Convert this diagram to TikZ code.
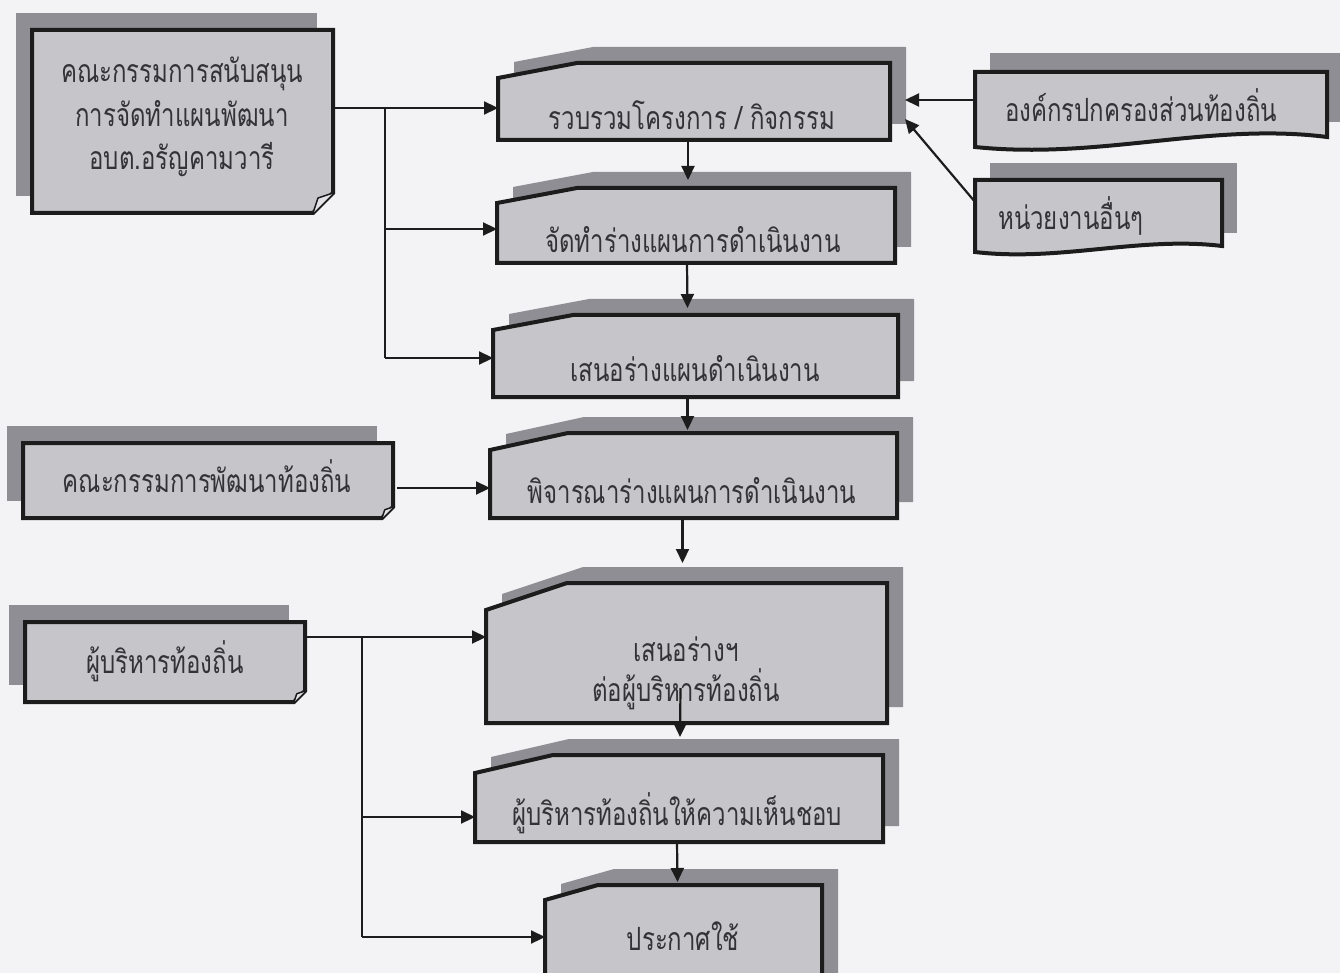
\documentclass[tikz,border=0pt]{standalone}
\usepackage{fontspec}
\newfontfamily\thaifont[Script=Thai, FakeStretch=0.75]{Loma}
\usetikzlibrary{arrows.meta,calc}
\definecolor{bgc}{HTML}{F3F3F5}
\definecolor{boxc}{HTML}{C6C6CA}
\definecolor{shadc}{HTML}{8E8E94}
\definecolor{linec}{HTML}{1C1C1C}
\definecolor{txtc}{HTML}{333336}
\definecolor{foldc}{HTML}{E4E4E8}
% #1 name, #2 x1, #3 top, #4 x2, #5 bottom, #6 slant width, #7 slant drop
\newcommand\procbox[7]{%
  \fill[shadc] (#2+16,#3-16+#7) -- (#2+16+#6,#3-16) -- (#4+16,#3-16) -- (#4+16,#5-16) -- (#2+16,#5-16) -- cycle;
  \filldraw[boxline] (#2,#3+#7) -- (#2+#6,#3) -- (#4,#3) -- (#4,#5) -- (#2,#5) -- cycle;
  \node[area, minimum width={(#4-#2)*1pt}, minimum height={(#5-#3)*1pt}] (#1) at ({(#2+#4)/2},{(#3+#5)/2}) {};
}
% #1 name, #2 x1, #3 top, #4 x2, #5 bottom, #6 fold size
\newcommand\notebox[6]{%
  \fill[shadc] (#2-16,#3-17) rectangle (#4-16,#5-17);
  \filldraw[boxline] (#2,#3) -- (#4,#3) -- (#4,#5-#6) -- (#4-#6,#5) -- (#2,#5) -- cycle;
  \filldraw[fill=foldc, draw=linec, line width=1.5pt, line join=round] (#4,#5-#6) -- (#4-0.75*#6,#5-0.75*#6) -- (#4-#6,#5);
  \node[area, minimum width={(#4-#2)*1pt}, minimum height={(#5-#3)*1pt}] (#1) at ({(#2+#4)/2},{(#3+#5)/2}) {};
}
\begin{document}
\begin{tikzpicture}[x=1pt,y=-1pt,
  boxline/.style={fill=boxc, draw=linec, line width=4pt, line join=miter},
  area/.style={inner sep=0pt, outer sep=0pt, draw=none, fill=none},
  txt/.style={font=\thaifont\fontsize{32}{36}\selectfont, text=txtc, inner sep=0pt, anchor=base},
  ln/.style={draw=linec, line width=2.2pt},
  arr/.style={ln, -{Triangle[length=14pt,width=13pt]}}]
\useasboundingbox (0,0) rectangle (1340,973);
\clip (0,0) rectangle (1340,973);
\fill[bgc] (0,0) rectangle (1340,973);

% left committee boxes
\notebox{c1}{32}{30}{333}{213}{20}
\notebox{c2}{23}{443}{393}{518}{11}
\notebox{c3}{25}{622}{305}{702}{11}

% process boxes
\procbox{p1}{498}{63}{890}{140}{79}{15}
\procbox{p2}{497}{188}{895}{263}{80}{15}
\procbox{p3}{493}{315}{898}{397}{80}{15}
\procbox{p4}{490}{433}{897}{518}{78}{17}
\procbox{p5}{486}{583}{887}{723}{81}{27}
\procbox{p6}{475}{755}{883}{842}{78}{18}
\procbox{p7}{545}{885}{822}{990}{53}{15}

% right document boxes (wavy bottom)
\fill[shadc] (990,53) rectangle (1345,122);
\filldraw[boxline] (975,72) -- (1327,72) -- (1327,137) .. controls (1210,122) and (1100,160) .. (975,147) -- cycle;
\node[area, minimum width=352pt, minimum height=75pt] (oA) at (1151,109.5) {};
\fill[shadc] (990,163) rectangle (1237,233);
\filldraw[boxline] (975,180) -- (1222,180) -- (1222,246) .. controls (1140,236) and (1060,262) .. (975,252) -- cycle;
\node[area, minimum width=247pt, minimum height=73pt] (oB) at (1098.5,216.5) {};

% texts
\node[txt] (c1a) at (182,83) {คณะกรรมการสนับสนุน};
\node[txt] (c1b) at (182,127) {การจัดทำแผนพัฒนา};
\node[txt] (c1c) at (182,170) {อบต.อรัญคามวารี};
\node[txt] (c2t) at (207,492) {คณะกรรมการพัฒนาท้องถิ่น};
\node[txt] (c3t) at (165,673) {ผู้บริหารท้องถิ่น};
\node[txt] (p1t) at (692,130) {รวบรวมโครงการ / กิจกรรม};
\node[txt] (p2t) at (693,253) {จัดทำร่างแผนการดำเนินงาน};
\node[txt] (p3t) at (695,381) {เสนอร่างแผนดำเนินงาน};
\node[txt] (p4t) at (692,503) {พิจารณาร่างแผนการดำเนินงาน};
\node[txt] (p5a) at (686,661) {เสนอร่างฯ};
\node[txt] (p5b) at (686,701) {ต่อผู้บริหารท้องถิ่น};
\node[txt] (p6t) at (677,825) {ผู้บริหารท้องถิ่นให้ความเห็นชอบ};
\node[txt] (p7t) at (683,950) {ประกาศใช้};
\node[txt] (oAt) at (1141,122) {องค์กรปกครองส่วนท้องถิ่น};
\node[txt, anchor=base west] (oBt) at (998,230) {หน่วยงานอื่นๆ};

% connectors: committee 1
\coordinate (j1) at (385,108);
\coordinate (j2) at (385,229);
\coordinate (j3) at (385,358);
\draw[ln] (c1.east |- j1) -- (j1);
\draw[ln] (j1) -- (j3);
\draw[arr] (j1) -- (p1.west |- j1);
\draw[arr] (j2) -- (p2.west |- j2);
\draw[arr] (j3) -- (p3.west |- j3);

% right sources
\coordinate (k1) at (905,100);
\coordinate (k2) at (905,119);
\draw[arr] (oA.west |- k1) -- (k1);
\draw[arr] ($(oB.north west)!0.3!(oB.south west)$) -- (k2);

% committee 2
\coordinate (m1) at (397,488);
\draw[arr] (m1) -- (p4.west |- m1);

% executives
\coordinate (n1) at (362,637);
\coordinate (n2) at (362,817);
\coordinate (n3) at (362,937);
\draw[ln] (c3.east |- n1) -- (n1);
\draw[ln] (n1) -- (n3);
\draw[arr] (n1) -- (p5.west |- n1);
\draw[arr] (n2) -- (p6.west |- n2);
\draw[arr] (n3) -- (p7.west |- n3);

% main flow
\draw[arr] ([xshift=-6pt]p1.south) -- ([xshift=-8pt,yshift=8pt]p2.north);
\draw[arr] ([xshift=-9pt]p2.south) -- ([xshift=-8pt,yshift=7pt]p3.north);
\draw[arr] ([xshift=-8pt]p3.south) -- ([xshift=-6pt,yshift=3pt]p4.north);
\draw[arr] ([xshift=-11pt]p4.south) -- ([xshift=-4pt,yshift=20pt]p5.north);
\draw[arr] ([xshift=-6pt,yshift=35pt]p5.south) -- ([xshift=1pt,yshift=18pt]p6.north);
\draw[arr] ([xshift=-2pt]p6.south) -- ([xshift=-6pt,yshift=3pt]p7.north);
\end{tikzpicture}
\end{document}
